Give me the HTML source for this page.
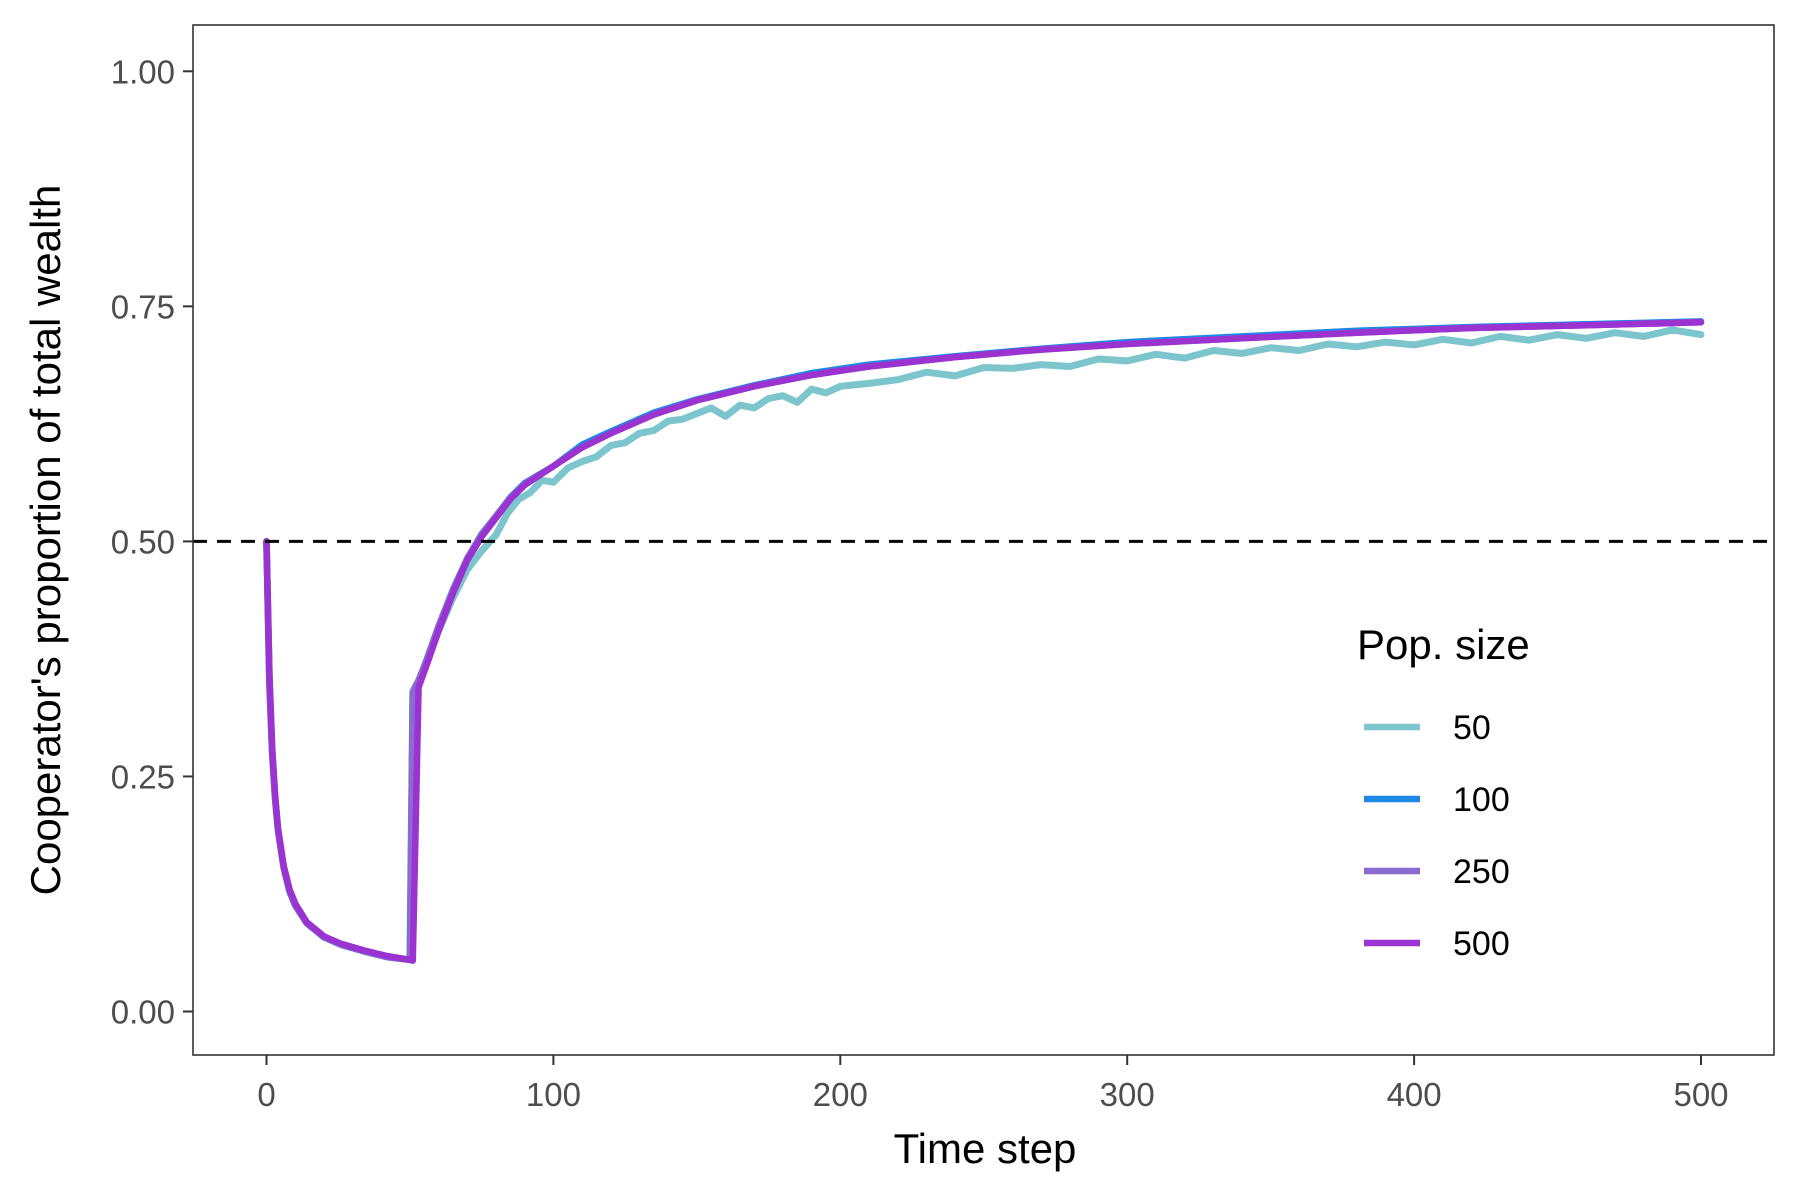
<!DOCTYPE html>
<html><head><meta charset="utf-8"><style>
html,body{margin:0;padding:0;background:#fff}
svg{display:block;font-family:"Liberation Sans",Arial,sans-serif}
</style></head><body>
<svg id="chart" width="1800" height="1200" viewBox="0 0 1800 1200" xmlns="http://www.w3.org/2000/svg">
<rect width="1800" height="1200" fill="#fff"/>
<g id="series"></g>
<rect x="193" y="25" width="1581" height="1030" fill="none" stroke="#333" stroke-width="1.6"/>
<g id="axes"></g>
<text x="985" y="1163" font-size="42" text-anchor="middle" fill="#000">Time step</text>
<text transform="translate(60,540) rotate(-90)" font-size="42" text-anchor="middle" fill="#000">Cooperator's proportion of total wealth</text>
<g id="legend">
<text x="1357" y="659" font-size="42" fill="#000">Pop. size</text>
</g>
</svg>
<script>
const times=[0,1,2,3,4,6,8,10,14,20,26,34,42,50,51,53,56,60,65,70,75,80,85,90,100,110,120,135,150,170,190,210,240,270,300,340,380,420,460,500];
const s500=[0.50,0.36,0.28,0.23,0.195,0.155,0.13,0.115,0.095,0.08,0.072,0.065,0.059,0.055,0.054,0.345,0.37,0.405,0.445,0.48,0.505,0.525,0.545,0.56,0.58,0.6,0.615,0.635,0.65,0.665,0.677,0.686,0.696,0.704,0.71,0.716,0.722,0.727,0.73,0.733];
const s250=[0.50,0.35,0.275,0.227,0.193,0.153,0.128,0.113,0.094,0.079,0.071,0.064,0.058,0.055,0.34,0.352,0.375,0.41,0.448,0.482,0.507,0.527,0.546,0.561,0.58,0.6,0.615,0.635,0.65,0.665,0.677,0.686,0.696,0.704,0.71,0.716,0.722,0.727,0.73,0.733];
const s100=[0.50,0.35,0.275,0.227,0.193,0.153,0.128,0.113,0.094,0.079,0.071,0.064,0.058,0.055,0.34,0.352,0.376,0.41,0.449,0.482,0.508,0.527,0.547,0.562,0.58,0.603,0.617,0.637,0.651,0.666,0.679,0.688,0.697,0.705,0.712,0.718,0.724,0.728,0.731,0.734];
const times50=[0,1,2,3,4,6,8,10,14,20,26,34,42,50,51,53,56,60,65,70,75,80,84,88,92,96,100,105,110,115,120,125,130,135,140,145,150,155,160,165,170,175,180,185,190,195,200,210,220,230,240,250,260,270,280,290,300,310,320,330,340,350,360,370,380,390,400,410,420,430,440,450,460,470,480,490,500];
const s50=[0.50,0.35,0.275,0.227,0.193,0.153,0.128,0.113,0.094,0.079,0.071,0.064,0.058,0.055,0.34,0.352,0.372,0.405,0.44,0.47,0.49,0.507,0.53,0.545,0.552,0.565,0.563,0.578,0.585,0.59,0.602,0.605,0.615,0.618,0.628,0.63,0.636,0.642,0.633,0.645,0.642,0.652,0.655,0.648,0.662,0.658,0.665,0.668,0.672,0.68,0.676,0.685,0.684,0.688,0.686,0.694,0.692,0.699,0.695,0.703,0.7,0.706,0.703,0.71,0.707,0.712,0.709,0.715,0.711,0.718,0.714,0.72,0.716,0.722,0.718,0.725,0.72];
const seriesNames=["50","100","250","500"];
const seriesColors=["#7cc5cd","#1e88e5","#8b6bd0","#9b33d0"];
const seriesTimes=[times50,times,times,times];
const seriesData=[s50,s100,s250,s500];
const xTicks=[0,100,200,300,400,500];
const yTicks=[0,0.25,0.5,0.75,1.0];
const yTickLabels=["0.00","0.25","0.50","0.75","1.00"];
const refLine=0.5;

const NS="http://www.w3.org/2000/svg";
const X0=266.5,X1=1701,Y0=1011.5,Y1=71.3;
const xs=t=>X0+(X1-X0)*t/500;
const ys=v=>Y0+(Y1-Y0)*v;
function mk(tag,attrs,parent){const e=document.createElementNS(NS,tag);for(const k in attrs)e.setAttribute(k,attrs[k]);parent.appendChild(e);return e;}
const axes=document.getElementById('axes');
xTicks.forEach(t=>{
  const l=mk('line',{x1:xs(t),x2:xs(t),y1:1055,y2:1065,stroke:'#333','stroke-width':2},axes);
  
  
  const tx=mk('text',{x:xs(t),y:1106,'font-size':33,'text-anchor':'middle',fill:'#4d4d4d'},axes);
  tx.textContent=t;
  
  
});
yTicks.forEach((v,i)=>{
  const l=mk('line',{x1:183,x2:193,y1:ys(v),y2:ys(v),stroke:'#333','stroke-width':2},axes);
  
  
  const tx=mk('text',{x:175,y:ys(v)+12,'font-size':33,'text-anchor':'end',fill:'#4d4d4d'},axes);
  tx.textContent=yTickLabels[i];
  
  
});
const sg=document.getElementById('series');
seriesData.forEach((d,i)=>{
  const tt=seriesTimes[i];
  const pts=tt.map((t,j)=>xs(t).toFixed(1)+','+ys(d[j]).toFixed(1)).join(' ');
  const p=mk('polyline',{points:pts,fill:'none',stroke:seriesColors[i],'stroke-width':i===0?7:6.5,'stroke-linejoin':'round','stroke-linecap':'round'},sg);
  
  
});
const rl=mk('line',{x1:193,x2:1774,y1:ys(refLine),y2:ys(refLine),stroke:'#000','stroke-width':3,'stroke-dasharray':'14 10'},sg);


const lg=document.getElementById('legend');
const ly=[727,799,871,943];
seriesNames.forEach((n,i)=>{
  const k=mk('line',{x1:1364,x2:1420,y1:ly[i],y2:ly[i],stroke:seriesColors[i],'stroke-width':6.5},lg);
  
  
  const t=mk('text',{x:1453,y:ly[i]+12,'font-size':34,fill:'#000'},lg);
  t.textContent=n;
  
  
});
</script>
</body></html>
